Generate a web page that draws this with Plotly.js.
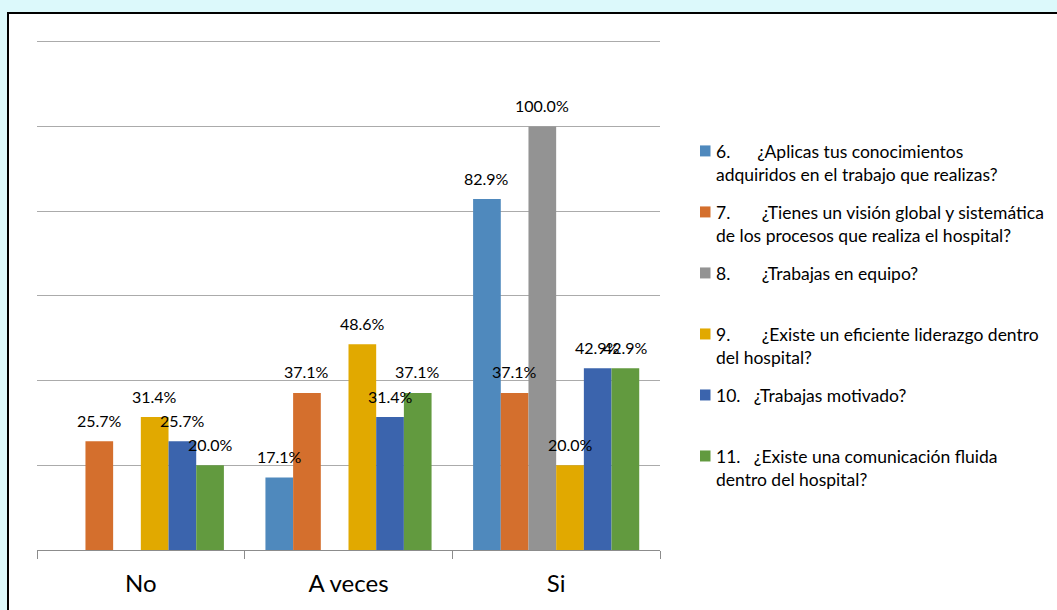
<!DOCTYPE html>
<html>
<head>
<meta charset="utf-8">
<script src="https://cdn.plot.ly/plotly-3.0.1.min.js"></script>
<style>
  html, body { margin: 0; padding: 0; width: 1057px; height: 610px; overflow: hidden; background: #dcf9fb; }
  #frame { position: absolute; left: 7px; top: 12px; width: 1060px; height: 610px; background: #ffffff; border: 2px solid #000; box-sizing: border-box; }
  #chart { position: absolute; left: 0; top: 0; width: 1057px; height: 610px; }
</style>
</head>
<body>
<div id="frame"></div>
<div id="chart"></div>
<script>
// ---- data ----
const categories = ["No", "A veces", "Si"];
const seriesNumbers = ["6.", "7.", "8.", "9.", "10.", "11."];
const seriesQuestions = [
  "¿Aplicas tus conocimientos<br>adquiridos en el trabajo que realizas?",
  "¿Tienes un visión global y sistemática<br>de los procesos que realiza el hospital?",
  "¿Trabajas en equipo?",
  "¿Existe un eficiente liderazgo dentro<br>del hospital?",
  "¿Trabajas motivado?",
  "¿Existe una comunicación fluida<br>dentro del hospital?"
];
const q6  = [null, 17.1, 82.9];
const q7  = [25.7, 37.1, 37.1];
const q8  = [null, null, 100.0];
const q9  = [31.4, 48.6, 20.0];
const q10 = [25.7, 31.4, 42.9];
const q11 = [20.0, 37.1, 42.9];
const seriesValues = [q6, q7, q8, q9, q10, q11];
const colors = ["#4F89BD", "#D46F2D", "#939393", "#E1A900", "#3B64AD", "#629A3F"];

// ---- layout constants ----
const W = 1057, H = 610;
const yMax = 124;                 // axis range top (gridlines every 20 up to 120)
const pxPerUnit = 508 / 120;      // 0 -> y=550, 120 -> y=42
const margin = {l: 37, r: 397, t: Math.round((550 - yMax * pxPerUnit) * 10) / 10, b: 60, pad: 0};
const plotW = W - margin.l - margin.r;
const plotH = H - margin.t - margin.b;
const bargap = 0.2;
const barPx = plotW / categories.length * (1 - bargap) / seriesValues.length;
const FONT = "Lato, 'Open Sans', sans-serif";
const px2x = p => (p - margin.l) / plotW;
const px2y = p => 1 - (p - margin.t) / plotH;
const nb = n => "\u00a0".repeat(n);
const tabs = [6, 7, 7, 7, 3, 3];

const seriesNames = seriesNumbers.map((n, i) => n + nb(tabs[i]) + seriesQuestions[i]);

const traces = seriesValues.map((vals, i) => ({
  type: "bar",
  name: seriesNames[i],
  x: categories,
  y: vals,
  marker: {color: colors[i], line: {width: 0}},
  hoverinfo: "x+y",
  showlegend: false
}));

const annotations = [];
seriesValues.forEach((vals, i) => {
  vals.forEach((v, j) => {
    if (v === null) return;
    annotations.push({
      x: categories[j], y: v, xref: "x", yref: "y",
      text: v.toFixed(1) + "%",
      showarrow: false,
      xshift: (i - (seriesValues.length - 1) / 2) * barPx,
      yshift: 21,
      yanchor: "middle", xanchor: "center",
      font: {family: FONT, size: 16, color: "#000"}
    });
  });
});

// legend (drawn as text + squares)
const shapes = [];
const legTop = 151, legPitch = 61, legFont = 17.5, legLine = 1.3 * legFont;
seriesNames.forEach((name, i) => {
  const cy = legTop + legPitch * i;
  shapes.push({
    type: "rect", xref: "paper", yref: "paper",
    x0: px2x(700), x1: px2x(710.5), y0: px2y(cy - 5.5), y1: px2y(cy + 5.5),
    fillcolor: colors[i], line: {width: 0}
  });
  annotations.push({
    xref: "paper", yref: "paper",
    x: px2x(714), y: px2y(cy - legLine / 2 - 1),
    xanchor: "left", yanchor: "top", align: "left",
    text: name, showarrow: false,
    font: {family: FONT, size: legFont, color: "#000"}
  });
});

const layout = {
  width: W, height: H,
  margin: margin,
  paper_bgcolor: "rgba(0,0,0,0)",
  plot_bgcolor: "rgba(0,0,0,0)",
  barmode: "group",
  bargap: bargap,
  bargroupgap: 0,
  font: {family: FONT, size: 16, color: "#000"},
  xaxis: {
    type: "category",
    showline: true, linecolor: "#8C8C8C", linewidth: 1,
    ticks: "outside", tickson: "boundaries", ticklen: 8, tickcolor: "#8C8C8C", tickwidth: 1,
    tickfont: {family: FONT, size: 24, color: "#000"},
    ticklabelstandoff: 12,
    showgrid: false, zeroline: false
  },
  yaxis: {
    range: [0, yMax], tickmode: "array", tickvals: [0, 20, 40, 60, 80, 100, 120],
    showticklabels: false, ticks: "",
    showgrid: true, gridcolor: "#ABABAB", gridwidth: 1,
    zeroline: false, showline: false
  },
  showlegend: false,
  shapes: shapes,
  annotations: annotations
};

Plotly.newPlot("chart", traces, layout, {displayModeBar: false, staticPlot: true});
</script>
</body>
</html>
